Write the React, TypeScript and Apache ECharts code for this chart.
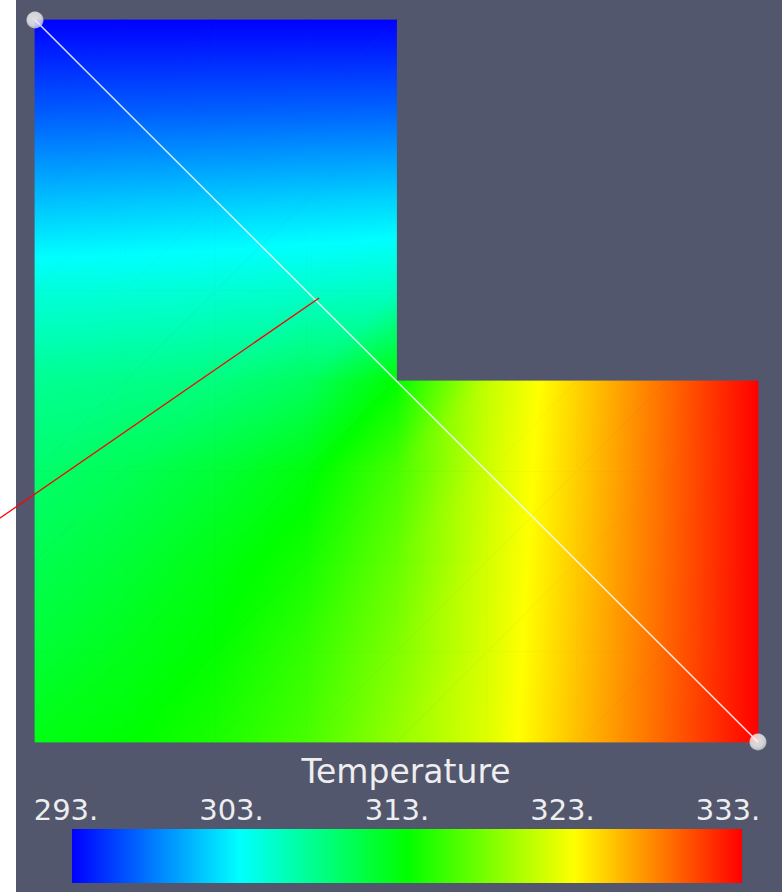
import React, { useEffect, useRef } from "react";
import * as echarts from "echarts";

// Mesh node positions (model units) of the L-shaped domain
const xNodes = [0, 0.25, 0.5, 0.75, 1, 1.25, 1.5, 1.75, 2];
const yNodes = [0, 0.25, 0.5, 0.75, 1, 1.25, 1.5, 1.75, 2];

// Temperature at the nodes, one row per y (bottom to top); null = outside the L
const tempY000 = [312.2, 312.9, 314.0, 315.8, 318.8, 321.7, 325.5, 329.2, 333];
const tempY025 = [310.9, 312.0, 313.1, 315.0, 318.0, 321.5, 325.3, 329.1, 333];
const tempY050 = [309.9, 310.9, 312.3, 313.8, 317.0, 321.3, 325.1, 329.0, 333];
const tempY075 = [308.8, 309.7, 310.9, 312.5, 315.8, 321.0, 324.9, 328.9, 333];
const tempY100 = [307.3, 307.6, 308.1, 309.3, 313.0, 320.6, 324.7, 328.8, 333];
const tempY125 = [304.4, 304.5, 304.7, 305.0, 305.4, null, null, null, null];
const tempY150 = [300.5, 300.7, 300.9, 301.1, 301.3, null, null, null, null];
const tempY175 = [296.5, 296.6, 296.7, 296.8, 296.9, null, null, null, null];
const tempY200 = [293.0, 293.0, 293.0, 293.0, 293.0, null, null, null, null];
const tempRows = [tempY000, tempY025, tempY050, tempY075, tempY100, tempY125, tempY150, tempY175, tempY200];

// Color legend
const tempMin = 293;
const tempMax = 333;
const legendTicks = [293, 303, 313, 323, 333];
const legendTitle = "Temperature";
const rainbow = ["#0000ff", "#00ffff", "#00ff00", "#ffff00", "#ff0000"];

// Probe line (white) and its normal (red), in model units: [x1, y1, x2, y2]
const probeEnds = [[0, 2], [2, 0]];
const probeLine = [0, 2, 2, 0];
const normalLine = [0.786, 1.23, -0.2, 0.549];

const BG = "#52576e";
const TEXT = "#eeeeee";
const FONT = "DejaVu Sans";

const stops = rainbow.map((c, k) => ({ offset: k / (rainbow.length - 1), color: c }));

function triFill(a: any, b: any, c: any) {
  const [p0, t0] = a;
  const [p1, t1] = b;
  const [p2, t2] = c;
  const e1x = p1[0] - p0[0], e1y = p1[1] - p0[1];
  const e2x = p2[0] - p0[0], e2y = p2[1] - p0[1];
  const d1 = t1 - t0, d2 = t2 - t0;
  const det = e1x * e2y - e1y * e2x;
  const gx = (d1 * e2y - d2 * e1y) / det;
  const gy = (e1x * d2 - e2x * d1) / det;
  const g2 = gx * gx + gy * gy;
  if (!isFinite(g2) || g2 < 1e-14) {
    return echarts.color.lerp((t0 - tempMin) / (tempMax - tempMin), rainbow);
  }
  const s0 = (tempMin - t0) / g2;
  const s1 = (tempMax - t0) / g2;
  return new echarts.graphic.LinearGradient(
    p0[0] + gx * s0, p0[1] + gy * s0,
    p0[0] + gx * s1, p0[1] + gy * s1,
    stops, true
  );
}

function tri(a: any, b: any, c: any) {
  const fill = triFill(a, b, c);
  return {
    type: "polygon",
    shape: { points: [a[0], b[0], c[0]] },
    style: { fill, stroke: fill, lineWidth: 0.8 },
  };
}

const cells: number[][] = [];
for (let j = 0; j < yNodes.length - 1; j++) {
  for (let i = 0; i < xNodes.length - 1; i++) {
    const r0 = tempRows[j], r1 = tempRows[j + 1];
    if (r0[i] != null && r0[i + 1] != null && r1[i] != null && r1[i + 1] != null) cells.push([i, j]);
  }
}

export default function App() {
  const ref = useRef<HTMLDivElement>(null);
  useEffect(() => {
    if (!ref.current) return;
    const chart = echarts.init(ref.current, undefined, { renderer: "svg" });
    const lineItem = (color: string, width: number) => (params: any, api: any) => {
      const p1 = api.coord([api.value(0), api.value(1)]);
      const p2 = api.coord([api.value(2), api.value(3)]);
      return {
        type: "line",
        shape: { x1: p1[0], y1: p1[1], x2: p2[0], y2: p2[1] },
        style: { stroke: color, lineWidth: width },
      };
    };
    const option: any = {
      animation: false,
      backgroundColor: "#ffffff",
      grid: [
        { left: 35, top: 20, width: 723, height: 722, show: false },
        { left: 66, top: 829, width: 662, height: 54, show: false },
        { left: 72, top: 829, width: 670, height: 54, show: false },
      ],
      xAxis: [
        { type: "value", gridIndex: 0, min: 0, max: 2, show: false },
        {
          type: "value", gridIndex: 1, min: tempMin, max: tempMax, interval: 10,
          position: "top",
          axisLine: { show: false }, axisTick: { show: false }, splitLine: { show: false },
          axisLabel: {
            show: true, showMinLabel: true, showMaxLabel: true,
            formatter: (v: number) => (legendTicks.includes(v) ? `${v}.` : ""),
            color: TEXT, fontSize: 29, fontFamily: FONT,
            margin: 5,
          },
        },
        { type: "value", gridIndex: 2, min: tempMin, max: tempMax, show: false },
      ],
      yAxis: [
        { type: "value", gridIndex: 0, min: 0, max: 2, show: false },
        { type: "value", gridIndex: 1, min: 0, max: 1, show: false },
        { type: "value", gridIndex: 2, min: 0, max: 1, show: false },
      ],
      graphic: [
        { type: "rect", z: -100, shape: { x: 16, y: 0, width: 766, height: 892 }, style: { fill: BG } },
        {
          type: "text", z: 100, x: 406, y: 771,
          style: {
            text: legendTitle, fill: TEXT, fontSize: 33, fontFamily: FONT,
            align: "center", verticalAlign: "middle",
          },
        },
      ],
      series: [
        {
          type: "custom", xAxisIndex: 0, yAxisIndex: 0, z: 1, clip: false,
          data: cells,
          renderItem: (params: any, api: any) => {
            const i = api.value(0), j = api.value(1);
            const N = (a: number, b: number) => [api.coord([xNodes[a], yNodes[b]]), tempRows[b][a] as number];
            const bl = N(i, j), br = N(i + 1, j), tr = N(i + 1, j + 1), tl = N(i, j + 1);
            return { type: "group", children: [tri(bl, br, tr), tri(bl, tr, tl)] };
          },
        },
        {
          type: "custom", xAxisIndex: 0, yAxisIndex: 0, z: 3, clip: false,
          data: [probeLine],
          renderItem: lineItem("rgba(235,248,248,0.9)", 1.5),
        },
        {
          type: "custom", xAxisIndex: 0, yAxisIndex: 0, z: 4, clip: false,
          data: [normalLine],
          renderItem: lineItem("#ff0000", 1.3),
        },
        {
          type: "scatter", xAxisIndex: 0, yAxisIndex: 0, z: 5, clip: false,
          data: probeEnds, symbolSize: 17,
          itemStyle: {
            color: new echarts.graphic.RadialGradient(0.45, 0.42, 0.6, [
              { offset: 0, color: "#ffffff" },
              { offset: 0.65, color: "#f2f2f2" },
              { offset: 1, color: "#c6c6c6" },
            ]),
          },
        },
        {
          type: "custom", xAxisIndex: 2, yAxisIndex: 2, z: 1,
          data: [[tempMin, tempMax]],
          renderItem: (params: any, api: any) => {
            const p0 = api.coord([api.value(0), 1]);
            const p1 = api.coord([api.value(1), 0]);
            return {
              type: "rect",
              shape: { x: p0[0], y: p0[1], width: p1[0] - p0[0], height: p1[1] - p0[1] },
              style: { fill: new echarts.graphic.LinearGradient(0, 0, 1, 0, stops) },
            };
          },
        },
      ],
    };
    chart.setOption(option);
    return () => chart.dispose();
  }, []);
  return (
    <div
      ref={ref}
      style={{ position: "fixed", left: 0, top: 0, width: 782, height: 892 }}
    />
  );
}
